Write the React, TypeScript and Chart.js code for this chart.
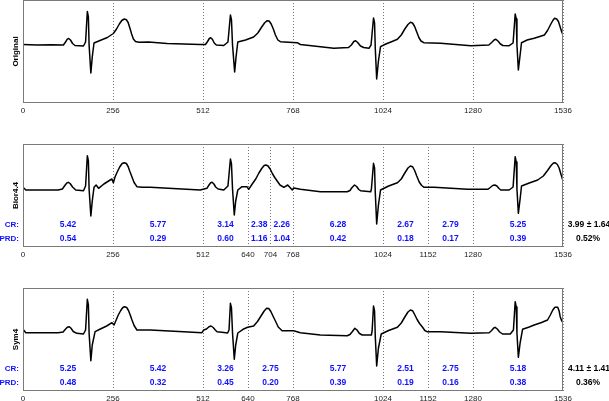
import React, { useEffect, useRef } from "react";
import { Chart, registerables } from "chart.js";

Chart.register(...registerables);

// ---- data (sample index, amplitude) ----
const ORIGINAL: [number, number][] = [
  [0, 0.5], [40, 0], [80, 0.3], [115, 0], [121, 3], [126, 5.8], [130, 6.5], [135, 5], [141, 1.5], [148, -0.5], [172, -1], [178, 3], [183, 33.5], [186, 28], [188, 0], [193, -28], [197, -12], [202, 2], [219, 4.5], [240, 7.5], [257, 11.5], [266, 16], [274, 21], [281, 24.5], [288, 26], [294, 25.3], [299, 22.5], [304, 17], [309, 11], [314, 6], [320, 3.5], [330, 2.8], [357, 3], [410, 1.5], [504, 0.5],
  [519, 0.5], [525, 3.5], [530, 6.5], [534, 7.3], [539, 5.5], [544, 2], [550, 0], [571, -0.5], [583, 3], [590, 30], [593, 25], [596, 0], [602, -27], [606, -12], [611, 3], [633, 5], [656, 8], [668, 12], [678, 17.5], [687, 22], [694, 24.3], [700, 24], [706, 21], [712, 16], [718, 10], [725, 5], [732, 3.3], [780, 2.3], [789, 0.5],
  [884, -3.3], [926, -2.5], [934, 0], [941, 3.5], [946, 4.3], [952, 2.5], [960, -1], [969, -2.5], [984, -3.3], [990, 0], [997, 27], [1000, 22], [1002, -3], [1006, -34], [1011, -16], [1017, -1.7], [1032, 1], [1050, 3.5], [1065, 5.7], [1076, 10], [1086, 16], [1095, 20.5], [1102, 22.7], [1108, 22], [1114, 18.5], [1120, 13], [1126, 7.5], [1132, 4], [1140, 2.3], [1188, 1.7], [1274, -0.7],
  [1325, 0], [1333, 2.5], [1340, 5], [1345, 5.7], [1351, 4], [1358, 1], [1365, -0.5], [1383, -0.7], [1394, 2], [1400, 31], [1403, 26], [1405, 0], [1409, -25], [1414, -10], [1418, 2.3], [1434, 5], [1454, 6.7], [1470, 8.5], [1483, 10], [1492, 14.5], [1500, 20], [1507, 24.5], [1512, 26.7], [1518, 26], [1523, 23.5], [1528, 18], [1532, 13.5], [1536, 10],
];

const BIOR44: [number, number][] = [
  [0, 1.7], [8, -1], [100, -1], [112, 0], [118, 3], [124, 5.8], [129, 6.7], [134, 5.5], [141, 2], [150, -1], [172, -1.7], [178, 3], [183, 33.3], [186, 28], [188, 0], [193, -27], [197, -12], [202, 1.7], [208, 4], [215, 0.7], [230, 5], [248, 9], [253, 10], [257, 6.3], [262, 12.3], [268, 17], [275, 22], [282, 25.5], [288, 26.3], [294, 25.5], [299, 22.5], [304, 17.5], [310, 12], [316, 6.5], [324, 2.3], [340, 1.8], [362, 1.7], [504, -1],
  [523, 0.7], [529, 4], [534, 6.3], [538, 6.7], [543, 5], [548, 2], [555, 0], [571, -1], [583, 3], [590, 30], [593, 25], [596, 0], [601, -26], [605, -12], [611, -1], [623, 2.3], [637, 2.3], [642, -0.3], [652, 5], [662, 10], [671, 16], [679, 20.5], [686, 23.5], [691, 24], [697, 23], [703, 20], [710, 15], [717, 11], [723, 8], [731, 4], [742, 1.7], [753, 4], [766, -1], [770, 1], [789, -0.3],
  [846, -2.7], [922, -2.7], [930, -1.5], [936, 1.5], [943, 4], [949, 2.5], [955, -0.5], [960, -1.7], [989, -2.7], [991, 0], [997, 25.7], [1000, 21], [1002, -3], [1006, -35], [1011, -16], [1017, -1], [1040, 3], [1065, 6.3], [1076, 10], [1086, 16], [1095, 21], [1102, 23], [1108, 22.3], [1114, 18.5], [1120, 13], [1127, 7], [1134, 3.5], [1141, 1.7], [1169, 1.7], [1265, -0.3],
  [1322, -0.3], [1329, 1.5], [1336, 3.5], [1342, 4], [1348, 3], [1354, 0.5], [1359, -1], [1383, -1], [1394, 2], [1400, 32.3], [1403, 27], [1405, 0], [1409, -24.3], [1414, -10], [1418, 3], [1440, 6], [1464, 9], [1480, 13], [1492, 18.5], [1502, 23.5], [1509, 26], [1514, 26.3], [1520, 24.5], [1525, 21], [1530, 15], [1536, 8.3],
];

const SYM4: [number, number][] = [
  [0, 3.7], [8, 0.3], [100, 0.3], [114, 1], [120, 3.5], [126, 5.8], [131, 6.3], [136, 5], [143, 1.5], [153, -0.3], [172, -1], [178, 3], [183, 33.7], [186, 28], [188, 0], [193, -27.7], [197, -12], [205, 1.3], [220, 4], [238, 7], [253, 10.3], [259, 8], [265, 13], [271, 18], [278, 22.5], [284, 25.5], [289, 26.3], [295, 25.5], [300, 22.5], [305, 18], [310, 13], [316, 7.5], [324, 3], [340, 3], [362, 3], [457, 1.3], [509, 0.3],
  [514, 3], [522, 4], [529, 6.3], [535, 7], [541, 5.5], [547, 3], [552, 1.3], [566, 0.7], [582, 0], [586, 3], [590, 29.7], [593, 25], [596, 0], [601, -26.3], [605, -12], [611, 0], [626, 3.7], [639, 5.7], [656, 7], [667, 11.5], [677, 17], [686, 22], [693, 24.7], [699, 24.5], [705, 21.5], [711, 17], [718, 12], [726, 6], [737, 2.3], [770, 2.3], [789, 0.3],
  [846, -2], [922, -2.7], [930, -1.5], [937, 1.5], [944, 4.7], [950, 3], [957, -0.5], [965, -2], [991, -2], [993, 2], [997, 27], [1000, 22], [1002, -3], [1006, -33], [1011, -15], [1019, -1], [1040, 2.5], [1065, 5.7], [1076, 10], [1086, 16], [1095, 21], [1102, 23], [1108, 22.3], [1114, 18.5], [1121, 13.5], [1128, 9.5], [1136, 6], [1143, 2.5], [1149, 1.3], [1188, 1.3], [1274, -0.3],
  [1326, 0.3], [1333, 2.5], [1339, 5], [1343, 5.7], [1349, 4], [1356, 1], [1364, -1], [1386, -1], [1395, 3], [1400, 31.3], [1403, 26], [1405, 0], [1409, -24.3], [1414, -10], [1421, 3.7], [1440, 6], [1454, 8], [1475, 10.5], [1492, 13], [1500, 18], [1507, 23], [1513, 25.7], [1521, 25.7], [1525, 22], [1528, 16.3], [1532, 12.5], [1536, 10.3],
];

const TICKS_ORIGINAL = [0, 256, 512, 768, 1024, 1280, 1536];
const TICKS_BIOR = [0, 256, 512, 640, 704, 768, 1024, 1152, 1280, 1536];
const TICKS_SYM = [0, 256, 512, 640, 768, 1024, 1152, 1280, 1536];

const BIOR_CR = [5.42, 5.77, 3.14, 2.38, 2.26, 6.28, 2.67, 2.79, 5.25];
const BIOR_PRD = [0.54, 0.29, 0.6, 1.16, 1.04, 0.42, 0.18, 0.17, 0.39];
const BIOR_SUMMARY = ["3.99 \u00b1 1.64", "0.52%"];

const SYM_CR = [5.25, 5.42, 3.26, 2.75, 5.77, 2.51, 2.75, 5.18];
const SYM_PRD = [0.48, 0.32, 0.45, 0.2, 0.39, 0.19, 0.16, 0.38];
const SYM_SUMMARY = ["4.11 \u00b1 1.41", "0.36%"];

// ---- layout / style constants ----
const FONT = "'Liberation Sans', Arial, sans-serif";
const PAD_TOP = 20;
const AREA_H = 103;
const AXIS_H = 18;
const CANVAS_H = PAD_TOP + AREA_H + AXIS_H;
const Y_MAX = 45;
const Y_MIN = -58;
const CR_LEVEL = -35.7;
const PRD_LEVEL = -50;
const BLUE = "#1010ff";

type PanelProps = {
  top: number;
  label: string;
  signal: [number, number][];
  ticks: number[];
  cr?: number[];
  prd?: number[];
  summary?: string[];
};

function Panel({ top, label, signal, ticks, cr, prd, summary }: PanelProps) {
  const ref = useRef<HTMLCanvasElement | null>(null);

  useEffect(() => {
    const canvas = ref.current;
    if (!canvas) return;

    const framePlugin = {
      id: "frame",
      afterDraw(chart: any) {
        const { ctx, chartArea: a } = chart;
        ctx.save();
        ctx.strokeStyle = "#7a7a7a";
        ctx.lineWidth = 1;
        ctx.strokeRect(
          Math.round(a.left) + 0.5,
          Math.round(a.top) + 0.5,
          Math.round(a.right - a.left) - 1,
          Math.round(a.bottom - a.top) - 1
        );
        ctx.restore();
      },
    };

    const textPlugin = {
      id: "segtext",
      afterDraw(chart: any) {
        if (!cr || !prd) return;
        const { ctx } = chart;
        const xs = chart.scales.x;
        const ys = chart.scales.y;
        const yCR = ys.getPixelForValue(CR_LEVEL);
        const yPRD = ys.getPixelForValue(PRD_LEVEL);
        ctx.save();
        ctx.textBaseline = "middle";
        ctx.fillStyle = BLUE;
        ctx.font = `bold 8px ${FONT}`;
        ctx.textAlign = "right";
        ctx.fillText("CR:", 19, yCR);
        ctx.fillText("PRD:", 19, yPRD);
        ctx.font = `bold 8.5px ${FONT}`;
        ctx.textAlign = "center";
        for (let i = 0; i < cr.length; i++) {
          const cx = xs.getPixelForValue((ticks[i] + ticks[i + 1]) / 2);
          ctx.fillText(cr[i].toFixed(2), cx, yCR);
          ctx.fillText(prd[i].toFixed(2), cx, yPRD);
        }
        if (summary) {
          ctx.fillStyle = "#000";
          ctx.fillText(summary[0], 589, yCR);
          ctx.fillText(summary[1], 588, yPRD);
        }
        ctx.restore();
      },
    };

    const chart = new Chart(canvas, {
      type: "line",
      data: {
        datasets: [
          {
            data: signal.map(([x, y]) => ({ x, y })),
            borderColor: "#000",
            borderWidth: 1.5,
            borderJoinStyle: "round",
            pointRadius: 0,
            tension: 0,
            fill: false,
          } as any,
        ],
      },
      options: {
        responsive: false,
        animation: false,
        events: [],
        layout: { padding: { top: PAD_TOP, right: 46, left: 0, bottom: 0 } },
        plugins: { legend: { display: false }, tooltip: { enabled: false } },
        scales: {
          x: {
            type: "linear",
            min: 0,
            max: 1536,
            afterBuildTicks: (s: any) => {
              s.ticks = ticks.map((v) => ({ value: v }));
            },
            afterFit: (s: any) => {
              s.height = AXIS_H;
            },
            ticks: {
              autoSkip: false,
              maxRotation: 0,
              minRotation: 0,
              padding: 3,
              color: "#222",
              font: { family: FONT, size: 8 },
              callback: (v: any) => String(v),
            },
            grid: { color: "#777", lineWidth: 1, drawTicks: false },
            border: { display: false, dash: [1, 2] },
          },
          y: {
            min: Y_MIN,
            max: Y_MAX,
            afterFit: (s: any) => {
              s.width = 23;
            },
            ticks: { display: false },
            grid: { display: false },
            border: { display: false },
            title: {
              display: true,
              text: label,
              color: "#000",
              font: { family: FONT, size: 8, weight: "bold" },
              padding: { top: 10.5, bottom: 0 },
            },
          },
        },
      } as any,
      plugins: [framePlugin, textPlugin],
    });
    return () => chart.destroy();
  }, []);

  return (
    <canvas
      ref={ref}
      width={609}
      height={CANVAS_H}
      style={{ position: "absolute", left: 0, top: top - PAD_TOP, width: 609, height: CANVAS_H }}
    />
  );
}

export default function App() {
  return (
    <div
      style={{
        position: "fixed",
        left: 0,
        top: 0,
        width: 609,
        height: 401,
        overflow: "hidden",
        background: "#fff",
      }}
    >
      <Panel top={0} label="Original" signal={ORIGINAL} ticks={TICKS_ORIGINAL} />
      <Panel
        top={144}
        label="Bior4.4"
        signal={BIOR44}
        ticks={TICKS_BIOR}
        cr={BIOR_CR}
        prd={BIOR_PRD}
        summary={BIOR_SUMMARY}
      />
      <Panel
        top={288}
        label="Sym4"
        signal={SYM4}
        ticks={TICKS_SYM}
        cr={SYM_CR}
        prd={SYM_PRD}
        summary={SYM_SUMMARY}
      />
    </div>
  );
}
